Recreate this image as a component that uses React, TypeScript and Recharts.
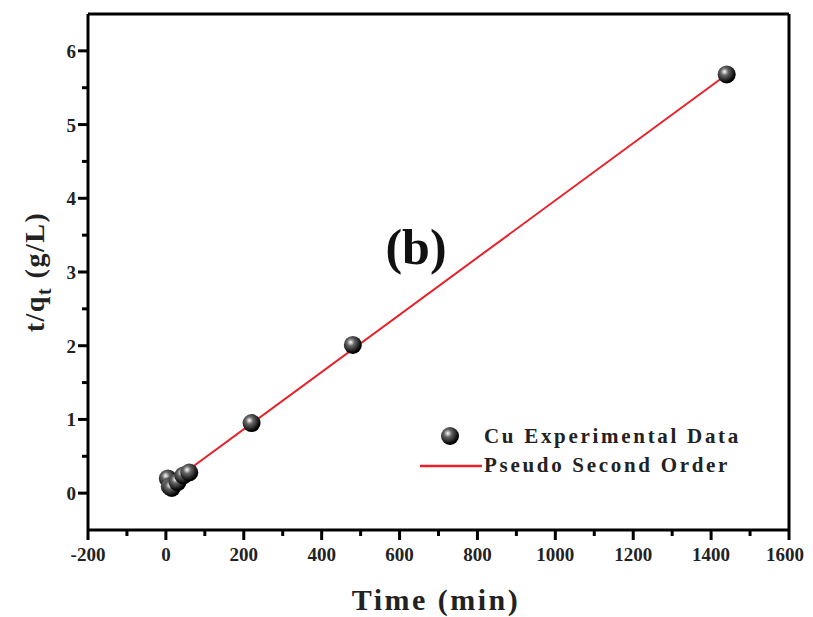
import { ScatterChart, Scatter, XAxis, YAxis, ReferenceLine } from 'recharts'

// Cu uptake, pseudo second order plot
const timeMin = [5, 10, 15, 30, 45, 60, 220, 480, 1440]
const tOverQ = [0.2, 0.09, 0.07, 0.15, 0.24, 0.28, 0.95, 2.01, 5.68]
const fitTime = [5, 1440]
const fitValue = [0.11, 5.68]

const xTicks = [-200, -100, 0, 100, 200, 300, 400, 500, 600, 700, 800, 900, 1000, 1100, 1200, 1300, 1400, 1500, 1600]
const yTicks = [0, 0.5, 1, 1.5, 2, 2.5, 3, 3.5, 4, 4.5, 5, 5.5, 6]

const points = timeMin.map((t, i) => ({ t, v: tOverQ[i] }))
const fit = fitTime.map((t, i) => ({ t, v: fitValue[i] }))

const FONT = '"Liberation Serif", "Times New Roman", serif'

const Sphere = ({ cx, cy, r = 9, id }: any) => (
  <g>
    <defs>
      <radialGradient id={id} cx="38%" cy="35%" r="60%">
        <stop offset="0%" stopColor="#fff" />
        <stop offset="35%" stopColor="#666" />
        <stop offset="100%" stopColor="#000" />
      </radialGradient>
    </defs>
    <circle cx={cx} cy={cy} r={r} fill={`url(#${id})`} />
  </g>
)

const XTick = ({ x, y, payload }: any) => {
  const major = payload.value % 200 === 0
  // last label would run past the right edge, so pull it in a little
  const last = payload.value === xTicks[xTicks.length - 1]
  return (
    <g>
      <line x1={x} x2={x} y1={y} y2={y + (major ? 10 : 6)} stroke="#000" strokeWidth={3} />
      {major && (
        <text
          x={last ? x + 15 : x}
          y={y + 31}
          textAnchor={last ? 'end' : 'middle'}
          fontFamily={FONT}
          fontWeight="bold"
          fontSize={19}
          fill="#222"
        >
          {payload.value}
        </text>
      )}
    </g>
  )
}

const YTick = ({ x, y, payload }: any) => {
  const major = payload.value % 1 === 0
  return (
    <g>
      <line x1={x} x2={x - (major ? 10 : 6)} y1={y} y2={y} stroke="#000" strokeWidth={3} />
      {major && (
        <text x={x - 12} y={y + 7} textAnchor="end" fontFamily={FONT} fontWeight="bold" fontSize={19} fill="#222">
          {payload.value}
        </text>
      )}
    </g>
  )
}

const LegendBox = () => (
  <div
    style={{
      position: 'absolute', left: 410, top: 414, width: 390,
      fontFamily: FONT, fontWeight: 'bold', fontSize: 21, color: '#222', letterSpacing: 2.7, lineHeight: '29px',
    }}
  >
    <div style={{ display: 'flex', alignItems: 'center' }}>
      <svg width={66} height={29}>
        <Sphere cx={32} cy={14} r={9} id="legendBall" />
      </svg>
      <span>Cu Experimental Data</span>
    </div>
    <div style={{ display: 'flex', alignItems: 'center' }}>
      <svg width={66} height={29}>
        <line x1={2} x2={64} y1={15} y2={15} stroke="#e8202a" strokeWidth={2.5} />
      </svg>
      <span>Pseudo Second Order</span>
    </div>
  </div>
)

export default function App() {
  return (
    <div style={{ position: 'relative', width: 805, height: 609 }}>
      <style>{'html { overflow: hidden; } #root { width: 805px; }'}</style>
      <ScatterChart width={805} height={600} margin={{ top: 6, right: 24, left: 20, bottom: 18 }}>
        <XAxis
          dataKey="t"
          type="number"
          domain={[-200, 1600]}
          ticks={xTicks}
          interval={0}
          tick={<XTick />}
          tickLine={false}
          tickSize={0}
          tickMargin={0}
          height={60}
          axisLine={{ stroke: '#000', strokeWidth: 3 }}
          allowDataOverflow
        />
        <YAxis
          dataKey="v"
          type="number"
          domain={[-0.5, 6.5]}
          ticks={yTicks}
          interval={0}
          tick={<YTick />}
          tickLine={false}
          tickSize={0}
          tickMargin={0}
          width={60}
          axisLine={{ stroke: '#000', strokeWidth: 3 }}
          allowDataOverflow
        />
        <ReferenceLine x={1600} stroke="#000" strokeWidth={3} />
        <ReferenceLine y={6.5} stroke="#000" strokeWidth={3} />
        <Scatter
          name="Pseudo Second Order"
          data={fit}
          line={{ stroke: '#e8202a', strokeWidth: 2 }}
          shape={() => <g />}
          isAnimationActive={false}
        />
        <Scatter
          name="Cu Experimental Data"
          data={points}
          shape={(p: any) => <Sphere cx={p.cx} cy={p.cy} r={9} id={`ball${p.index}`} />}
          isAnimationActive={false}
        />
      </ScatterChart>
      <LegendBox />
      <svg width={805} height={609} style={{ position: 'absolute', left: 0, top: 0, pointerEvents: 'none' }}>
        <text x={408} y={256} textAnchor="middle" fontFamily={FONT} fontWeight="bold" fontSize={50} fill="#111">
          (b)
        </text>
        <text x={428} y={602} textAnchor="middle" fontFamily={FONT} fontWeight="bold" fontSize={30} letterSpacing={2.5} fill="#222">
          Time (min)
        </text>
        <text
          transform="translate(36,264) rotate(-90)"
          textAnchor="middle"
          fontFamily={FONT}
          fontWeight="bold"
          fontSize={28}
          letterSpacing={1.5}
          fill="#222"
        >
          t/q<tspan fontSize={20} dy={7}>t</tspan>
          <tspan dy={-7}> (g/L)</tspan>
        </text>
      </svg>
    </div>
  )
}
